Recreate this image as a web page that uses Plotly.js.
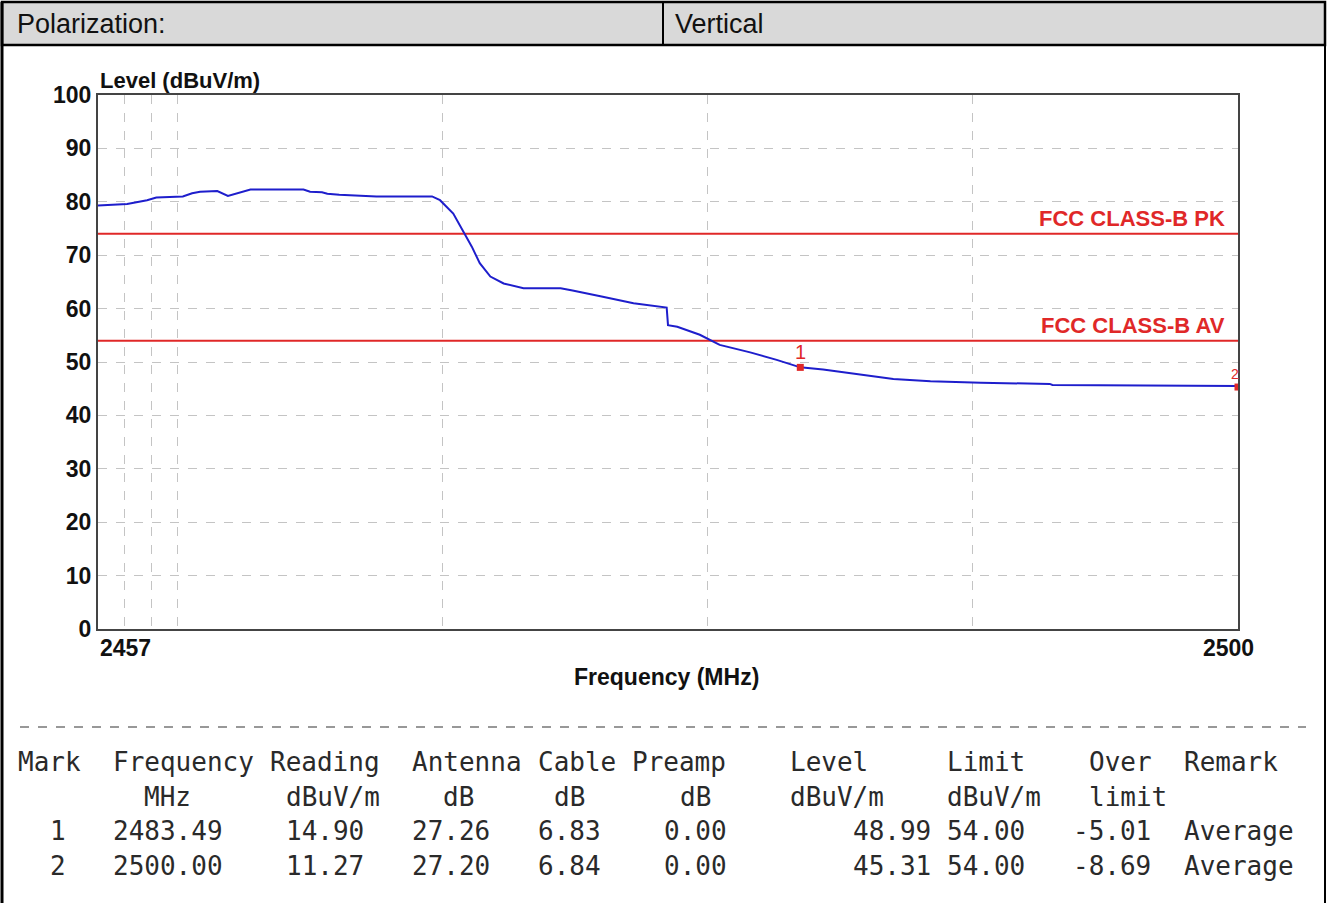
<!DOCTYPE html>
<html><head><meta charset="utf-8">
<script src="https://cdn.plot.ly/plotly-3.0.1.min.js"></script>
<style>html,body{margin:0;padding:0;background:#fff;overflow:hidden}#chart{width:1327px;height:903px}</style>
</head><body><div id="chart"></div>
<script>
// ---- data ----
const freq = [2457.0, 2458.1, 2458.85, 2459.2, 2460.2, 2460.55, 2460.85, 2461.5, 2461.9, 2462.35, 2462.75,
  2464.75, 2465.0, 2465.45, 2465.65, 2466.1, 2467.5, 2469.6, 2469.9, 2470.4, 2470.75, 2471.1, 2471.4,
  2471.8, 2472.3, 2473.05, 2474.45, 2474.9, 2475.95, 2477.2, 2478.45, 2478.5, 2478.85, 2479.7, 2480.45,
  2481.6, 2482.6, 2483.49, 2484.35, 2485.65, 2486.4, 2487.0, 2488.4, 2490.3, 2492.9, 2493.0, 2500.0];
const level = [79.3, 79.6, 80.3, 80.8, 81.0, 81.6, 81.9, 82.0, 81.1, 81.7, 82.3,
  82.3, 81.9, 81.8, 81.5, 81.3, 81.0, 81.0, 80.3, 77.8, 74.7, 71.6, 68.5,
  66.0, 64.7, 63.8, 63.8, 63.4, 62.3, 61.0, 60.2, 56.9, 56.6, 55.1, 53.2,
  51.8, 50.4, 49.0, 48.6, 47.75, 47.2, 46.8, 46.4, 46.1, 45.9, 45.7, 45.5];
const limitFreq = [2457, 2500];
const limitPK = [74, 74];
const limitAV = [54, 54];
const limitNames = ['FCC CLASS-B PK', 'FCC CLASS-B AV'];
const markNo = ['1', '2'];
const markFreq = [2483.49, 2500.00];
const markLevel = [48.99, 45.31];
const yTicks = [0, 10, 20, 30, 40, 50, 60, 70, 80, 90, 100];
const xGrid = [2458, 2459, 2460, 2470, 2480, 2490];
const xTickLabels = ['2457', '2500'];
const headerLeft = 'Polarization:';
const headerRight = 'Vertical';
const tableHeader = ['Mark', 'Frequency', 'Reading', 'Antenna', 'Cable', 'Preamp', 'Level', 'Limit', 'Over', 'Remark'];
const tableUnits = ['', 'MHz', 'dBuV/m', 'dB', 'dB', 'dB', 'dBuV/m', 'dBuV/m', 'limit', ''];
const tableRow1 = ['1', '2483.49', '14.90', '27.26', '6.83', '0.00', '48.99', '54.00', '-5.01', 'Average'];
const tableRow2 = ['2', '2500.00', '11.27', '27.20', '6.84', '0.00', '45.31', '54.00', '-8.69', 'Average'];

// ---- layout geometry (pixels) ----
const W = 1327, H = 903, L = 98, R = 1238, T = 95, B = 629;
const px = v => (v - L) / (R - L);
const py = v => (B - v) / (B - T);
const CW = 15.75, C0 = 16;
const headerCols = [0, 6, 16, 25, 33, 39, 49, 59, 68, 74];
const unitCols = [0, 8, 17, 27, 34, 42, 49, 59, 68, 74];
const valueCols = [2, 6, 17, 25, 33, 41, 53, 59, 67, 74];
const rowY = [762, 797, 831, 866];

const red = '#e02828', blue = '#1e1ecc';
const bold = {family: 'Liberation Sans, Arial, sans-serif', size: 23, color: '#111', weight: 700};
const mono = {family: 'DejaVu Sans Mono, monospace', size: 26, color: '#2a2a2a'};

const traces = [
  {x: limitFreq, y: limitPK, mode: 'lines', line: {color: red, width: 2}, hoverinfo: 'skip'},
  {x: limitFreq, y: limitAV, mode: 'lines', line: {color: red, width: 2}, hoverinfo: 'skip'},
  {x: freq, y: level, mode: 'lines', line: {color: blue, width: 2}},
  {x: markFreq, y: markLevel, mode: 'markers', marker: {color: red, symbol: 'square', size: 7}, cliponaxis: true}
];

const ann = [];
ann.push({xref: 'paper', yref: 'paper', x: 0, y: 1, xanchor: 'left', yanchor: 'bottom', yshift: 0,
  text: 'Level (dBuV/m)', showarrow: false, font: {...bold, size: 22}});
ann.push({xref: 'paper', yref: 'paper', x: px(666), y: py(677), xanchor: 'center', yanchor: 'middle',
  text: 'Frequency (MHz)', showarrow: false, font: {...bold, size: 23}});
ann.push({xref: 'x', yref: 'paper', x: 2457, y: 0, xanchor: 'left', yanchor: 'top', yshift: -4,
  text: xTickLabels[0], showarrow: false, font: bold});
ann.push({xref: 'x', yref: 'paper', x: 2500, y: 0, xanchor: 'center', yanchor: 'top', yshift: -4, xshift: -10,
  text: xTickLabels[1], showarrow: false, font: bold});
[limitPK[0], limitAV[0]].forEach((v, i) => ann.push({xref: 'x', yref: 'y', x: 2499.6, y: v, xanchor: 'right',
  yanchor: 'bottom', yshift: 1, text: limitNames[i], showarrow: false,
  font: {family: 'Liberation Sans, Arial, sans-serif', size: 22, color: red, weight: 700}}));
ann.push({xref: 'x', yref: 'y', x: markFreq[0], y: markLevel[0], xanchor: 'center', yanchor: 'bottom', yshift: 2,
  text: markNo[0], showarrow: false, font: {family: 'Liberation Sans, Arial', size: 20, color: red}});
ann.push({xref: 'x', yref: 'y', x: markFreq[1], y: markLevel[1], xanchor: 'right', yanchor: 'bottom', yshift: 3, xshift: 3,
  text: markNo[1], showarrow: false, font: {family: 'Liberation Sans, Arial', size: 14, color: red}});
// header
ann.push({xref: 'paper', yref: 'paper', x: px(15), y: py(24), xanchor: 'left', yanchor: 'middle',
  text: headerLeft, showarrow: false, font: {family: 'Liberation Sans, Arial', size: 27, color: '#111'}});
ann.push({xref: 'paper', yref: 'paper', x: px(673), y: py(24), xanchor: 'left', yanchor: 'middle',
  text: headerRight, showarrow: false, font: {family: 'Liberation Sans, Arial', size: 27, color: '#111'}});
// table
const addRow = (cells, cols, yPix) => cells.forEach((t, i) => {
  if (!t) return;
  ann.push({xref: 'paper', yref: 'paper', x: px(C0 + cols[i] * CW), y: py(yPix), xanchor: 'left', yanchor: 'middle',
    text: t, showarrow: false, font: mono});
});
addRow(tableHeader, headerCols, rowY[0]);
addRow(tableUnits, unitCols, rowY[1]);
addRow(tableRow1, valueCols, rowY[2]);
addRow(tableRow2, valueCols, rowY[3]);

const shapes = [
  {type: 'rect', xref: 'paper', yref: 'paper', x0: px(2), x1: px(1325), y0: py(45), y1: py(2),
    fillcolor: '#d9d9d9', line: {color: '#000', width: 2.5}, layer: 'below'},
  {type: 'line', xref: 'paper', yref: 'paper', x0: px(663), x1: px(663), y0: py(45), y1: py(2),
    line: {color: '#000', width: 2}},
  {type: 'line', xref: 'paper', yref: 'paper', x0: px(2), x1: px(2), y0: py(903), y1: py(2),
    line: {color: '#000', width: 3}},
  {type: 'line', xref: 'paper', yref: 'paper', x0: px(1325), x1: px(1325), y0: py(903), y1: py(2),
    line: {color: '#000', width: 2}},
  {type: 'line', xref: 'paper', yref: 'paper', x0: px(20), x1: px(1306), y0: py(727), y1: py(727),
    line: {color: '#777', width: 1.5, dash: 'dash'}}
];

const layout = {
  width: W, height: H, margin: {l: L, r: W - R, t: T, b: H - B, pad: 0},
  paper_bgcolor: '#fff', plot_bgcolor: '#fff', showlegend: false,
  xaxis: {range: [2457, 2500], tickvals: xGrid, showticklabels: false, ticks: '', showgrid: true,
    gridcolor: '#c4c4c4', griddash: 'dash', gridwidth: 1, zeroline: false,
    showline: true, mirror: true, linecolor: '#444', linewidth: 2},
  yaxis: {range: [0, 100], tickvals: yTicks, ticks: '', showgrid: true, gridcolor: '#c4c4c4', griddash: 'dash',
    gridwidth: 1, zeroline: false, showline: true, mirror: true, linecolor: '#444', linewidth: 2,
    tickfont: bold, ticklabelstandoff: 0},
  annotations: ann, shapes: shapes
};
Plotly.newPlot('chart', traces, layout, {displayModeBar: false, staticPlot: true});
</script></body></html>
